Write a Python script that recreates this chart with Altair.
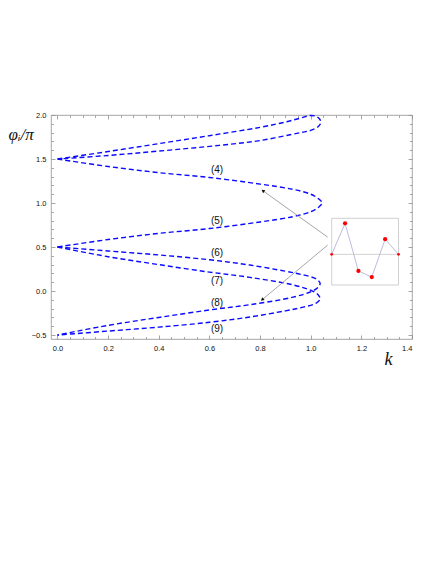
import altair as alt
import pandas as pd

# ---------------- data ----------------
top_k = [0, 0.2, 0.4, 0.6, 0.8, 0.9, 0.96, 1.0, 1.02, 1.035, 1.04, 1.03, 1.0, 0.96, 0.8, 0.64, 0.4, 0.2, 0]
top_phi = [1.5, 1.585, 1.675, 1.765, 1.86, 1.92, 1.965, 1.995, 1.985, 1.955, 1.915, 1.87, 1.825, 1.8, 1.71, 1.655, 1.59, 1.54, 1.5]

mid_k = [0, 0.2, 0.4, 0.6, 0.8, 0.93, 1.0, 1.03, 1.045, 1.03, 1.0, 0.93, 0.8, 0.6, 0.4, 0.2, 0]
mid_phi = [1.5, 1.415, 1.345, 1.29, 1.215, 1.155, 1.1, 1.05, 1.0, 0.95, 0.9, 0.845, 0.785, 0.71, 0.655, 0.585, 0.5]

loopA_k = [0, 0.2, 0.4, 0.6, 0.76, 0.9, 0.96, 1.02, 1.037, 1.03, 1.007, 0.93, 0.76, 0.6, 0.4, 0.2, 0]
loopA_phi = [0.5, 0.455, 0.41, 0.355, 0.295, 0.225, 0.19, 0.14, 0.09, 0.045, 0.0, -0.07, -0.155, -0.215, -0.3, -0.39, -0.5]

loopB_k = [0, 0.2, 0.4, 0.6, 0.76, 0.93, 1.007, 1.03, 1.037, 1.02, 0.96, 0.9, 0.76, 0.6, 0.4, 0.2, 0]
loopB_phi = [0.5, 0.39, 0.3, 0.215, 0.155, 0.07, 0.0, -0.045, -0.09, -0.14, -0.19, -0.225, -0.295, -0.355, -0.41, -0.455, -0.5]

label_text = ["(4)", "(5)", "(6)", "(7)", "(8)", "(9)"]
label_k = [0.63, 0.63, 0.63, 0.63, 0.63, 0.63]
label_phi = [1.375, 0.79, 0.435, 0.117, -0.14, -0.435]

arrow_k_start = [1.067, 1.067]
arrow_phi_start = [0.612, 0.522]
arrow_k_tip = [0.813, 0.81]
arrow_phi_tip = [1.136, -0.094]
arrow_angle = [306.5, 229.7]

inset_idx = [0, 1, 2, 3, 4, 5]
inset_val = [0, 0.86, -0.46, -0.63, 0.42, 0]
inset_size = [8, 18, 18, 18, 18, 8]

x_major = [0, 0.2, 0.4, 0.6, 0.8, 1.0, 1.2, 1.4]
x_minor = [round(0.05 * i, 2) for i in range(0, 29) if i % 4 != 0]
y_major = [-0.5, 0.0, 0.5, 1.0, 1.5, 2.0]
y_minor = [round(-0.5 + 0.1 * i, 1) for i in range(0, 26) if i % 5 != 0]

# ---------------- chart ----------------
W, H = 361, 224
XDOM = [-0.0256, 1.4]
YDOM = [-0.545, 2.0]
GRAY = "#8f8f8f"


def xs():
    return alt.Scale(domain=XDOM, nice=False, zero=False)


def ys():
    return alt.Scale(domain=YDOM, nice=False, zero=False)


rows = []
for name, ks, ps in [("top", top_k, top_phi), ("mid", mid_k, mid_phi),
                     ("A", loopA_k, loopA_phi), ("B", loopB_k, loopB_phi)]:
    for i, (a, b) in enumerate(zip(ks, ps)):
        rows.append({"curve": name, "k": a, "phi": b, "o": i})
curves_df = pd.DataFrame(rows)

curves = alt.Chart(curves_df).mark_line(
    color="#0a0aff", strokeDash=[5, 3], strokeWidth=1.4, interpolate="catmull-rom"
).encode(
    x=alt.X("k:Q", scale=xs(), axis=alt.Axis(
        orient="bottom", values=x_major, format=".1f", ticks=False, domain=False, grid=False,
        labelFontSize=7.5, labelColor="#111", labelFont="Liberation Sans", labelPadding=5,
        title="k", titleFont="Liberation Serif", titleFontStyle="italic", titleFontWeight="normal",
        titleFontSize=18, titleColor="#111", titleAnchor="start", titleAlign="center",
        titleX=337, titleY=20, titleBaseline="middle")),
    y=alt.Y("phi:Q", scale=ys(), axis=alt.Axis(
        orient="left", values=y_major, format=".1f", ticks=False, domain=False, grid=False,
        labelFontSize=7.5, labelColor="#111", labelFont="Liberation Sans", labelPadding=5,
        title="φᵢ/π", titleFont="Liberation Serif", titleFontStyle="italic", titleFontWeight="normal",
        titleFontSize=17, titleColor="#111", titleAngle=0, titleAlign="left", titleBaseline="middle",
        titleX=-43, titleY=19)),
    detail="curve:N",
    order="o:Q",
)

labels_df = pd.DataFrame({"t": label_text, "k": label_k, "phi": label_phi})
labels = alt.Chart(labels_df).mark_text(
    fontSize=10, font="Liberation Sans", color="#111"
).encode(
    x=alt.X("k:Q", scale=xs(), axis=None),
    y=alt.Y("phi:Q", scale=ys(), axis=None),
    text="t:N",
)

arrows_df = pd.DataFrame({"k0": arrow_k_start, "p0": arrow_phi_start,
                          "k1": arrow_k_tip, "p1": arrow_phi_tip, "ang": arrow_angle})
arrow_lines = alt.Chart(arrows_df).mark_rule(color="#808080", strokeWidth=0.7).encode(
    x=alt.X("k0:Q", scale=xs(), axis=None),
    y=alt.Y("p0:Q", scale=ys(), axis=None),
    x2="k1:Q",
    y2="p1:Q",
)
arrow_heads = alt.Chart(arrows_df).mark_point(
    shape="triangle", filled=True, color="#111", size=14, opacity=1
).encode(
    x=alt.X("k1:Q", scale=xs(), axis=None),
    y=alt.Y("p1:Q", scale=ys(), axis=None),
    angle=alt.Angle("ang:Q", scale=None),
)

# inset (own scales placed inside the plot area)
IX = alt.Scale(domain=[0, 5], range=[280.7, 347.5], nice=False, zero=False)
IY = alt.Scale(domain=[-0.85, 1.0], range=[170, 103.3], nice=False, zero=False)
inset_df = pd.DataFrame({"i": inset_idx, "v": inset_val, "s": inset_size})
frame_df = pd.DataFrame({"x0": [inset_idx[0]], "x1": [inset_idx[-1]], "y0": [-0.85], "y1": [1.0]})

inset_frame = alt.Chart(frame_df).mark_rect(fill="white", stroke="#c4c4c4", strokeWidth=0.8).encode(
    x=alt.X("x0:Q", scale=IX, axis=None), x2="x1:Q",
    y=alt.Y("y0:Q", scale=IY, axis=None), y2="y1:Q",
)
inset_zero = alt.Chart(frame_df).mark_rule(color="#c8c8c8", strokeWidth=0.8).encode(
    x=alt.X("x0:Q", scale=IX, axis=None), x2="x1:Q",
    y=alt.Y("zero:Q", scale=IY, axis=None),
).transform_calculate(zero="0")
inset_line = alt.Chart(inset_df).mark_line(color="#b4b4dc", strokeWidth=0.9).encode(
    x=alt.X("i:Q", scale=IX, axis=None),
    y=alt.Y("v:Q", scale=IY, axis=None),
)
inset_pts = alt.Chart(inset_df).mark_point(filled=True, color="#ff0000", opacity=1).encode(
    x=alt.X("i:Q", scale=IX, axis=None),
    y=alt.Y("v:Q", scale=IY, axis=None),
    size=alt.Size("s:Q", scale=None, legend=None),
)

# inward ticks on all four sides of the frame
dummy = pd.DataFrame({"k": [0.5], "phi": [0.5]})


def tick_layer(xvals, yvals, size, x_orient, y_orient, x_off, y_off):
    return alt.Chart(dummy).mark_point(opacity=0).encode(
        x=alt.X("k:Q", scale=xs(), axis=alt.Axis(
            orient=x_orient, offset=x_off, values=xvals, labels=False, domain=False,
            grid=False, ticks=True, tickSize=size, tickColor=GRAY, tickWidth=0.8, title=None)),
        y=alt.Y("phi:Q", scale=ys(), axis=alt.Axis(
            orient=y_orient, offset=y_off, values=yvals, labels=False, domain=False,
            grid=False, ticks=True, tickSize=size, tickColor=GRAY, tickWidth=0.8, title=None)),
    )


t1 = tick_layer(x_major, y_major, 4, "top", "right", -H, -W)
t2 = tick_layer(x_minor, y_minor, 2.5, "top", "right", -H, -W)
t3 = tick_layer(x_major, y_major, 4, "bottom", "left", -H, -W)
t4 = tick_layer(x_minor, y_minor, 2.5, "bottom", "left", -H, -W)

chart = alt.layer(
    curves, labels, arrow_lines, arrow_heads,
    inset_frame, inset_zero, inset_line, inset_pts,
    t1, t2, t3, t4,
).resolve_scale(x="independent", y="independent").resolve_axis(
    x="independent", y="independent"
).properties(
    width=W, height=H,
    autosize=alt.AutoSizeParams(type="none"),
    padding={"left": 43, "top": 107, "right": 16, "bottom": 40},
).configure_view(stroke=GRAY, strokeWidth=0.8)

chart.save("out.html", embed_options={"renderer": "svg", "actions": False})
